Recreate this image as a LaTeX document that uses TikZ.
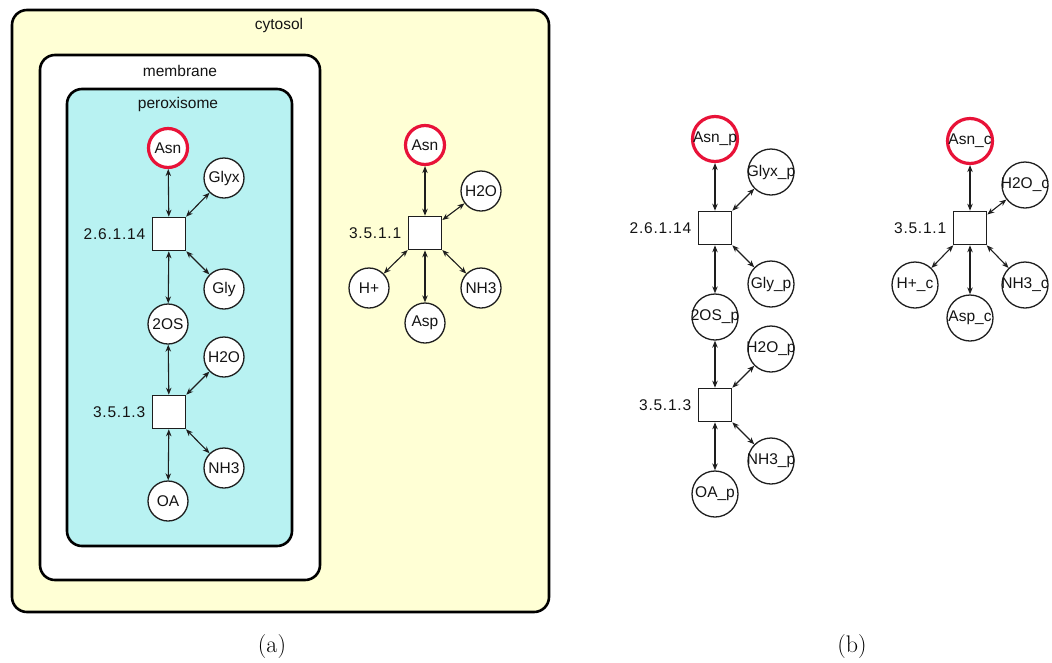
\documentclass[tikz,border=0pt]{standalone}
\usepackage{fontspec}
\newfontfamily\lblfont{Liberation Sans}
\newfontfamily\ecfont[LetterSpace=5]{Liberation Sans}
\usetikzlibrary{arrows.meta}

\definecolor{cytfill}{RGB}{255,255,213}
\definecolor{perfill}{RGB}{184,242,242}
\definecolor{keyred}{RGB}{232,18,56}
\definecolor{edgegray}{RGB}{30,30,30}

\tikzset{
  lbl/.style={font=\lblfont\fontsize{15.5}{18}\selectfont, text=black!92},
  eclbl/.style={font=\ecfont\fontsize{15.5}{18}\selectfont, text=black!92},
  comp/.style={draw=black, line width=2.6pt, rounded corners=15pt},
  met/.style={circle, draw=edgegray, line width=1.3pt, fill=white,
              minimum size=40pt, inner sep=0pt, lbl},
  keymet/.style={met, draw=keyred, line width=3.2pt, minimum size=39pt},
  pmet/.style={circle, draw=edgegray, line width=1.3pt, fill=white,
               minimum size=46pt, inner sep=0pt},
  pkey/.style={pmet, draw=keyred, line width=3.2pt, minimum size=45pt},
  rxn/.style={draw=edgegray, line width=1.6pt, fill=white,
              minimum size=33pt, inner sep=0pt},
  ec/.style={label={[eclbl, label distance=3pt]left:#1}},
  metname/.style={label={[lbl]center:#1}},
  link/.style={{Stealth[length=7pt,width=5.5pt]}-{Stealth[length=7pt,width=5.5pt]},
               line width=1.1pt, draw=edgegray},
  subcaption/.style={font=\fontsize{24}{28}\selectfont}
}

\begin{document}
\begin{tikzpicture}[x=1pt,y=-1pt]
\useasboundingbox (0,0) rectangle (1052,662);

% ---- compartments of the compartmentalised model ----
\draw[comp, fill=cytfill] (12,10) rectangle (549,612);
\draw[comp, fill=white]   (40,55) rectangle (320,580);
\draw[comp, fill=perfill] (67,89) rectangle (292,546);
\node[lbl] (tcyt) at (279,25) {cytosol};
\node[lbl] (tmem) at (180,71) {membrane};
\node[lbl] (tper) at (178,104) {peroxisome};

% ---- peroxisome pathway ----
\node[keymet] (asn1) at (168,148) {Asn};
\node[met] (glyx1) at (224,178) {Glyx};
\node[rxn, ec=2.6.1.14] (r1) at (169,234) {};
\node[met] (gly1) at (224,289) {Gly};
\node[met] (os1) at (168,324) {2OS};
\node[met] (h2o1) at (224,357) {H2O};
\node[rxn, ec=3.5.1.3] (r2) at (169,412) {};
\node[met] (nh31) at (224,468) {NH3};
\node[met] (oa1) at (168,501) {OA};

\draw[link] (r1) -- (asn1);
\draw[link] (r1) -- (glyx1);
\draw[link] (r1) -- (gly1);
\draw[link] (r1) -- (os1);
\draw[link] (r2) -- (os1);
\draw[link] (r2) -- (h2o1);
\draw[link] (r2) -- (nh31);
\draw[link] (r2) -- (oa1);

% ---- cytosolic pathway ----
\node[keymet] (asn2) at (425,145) {Asn};
\node[met] (h2o2) at (481,191) {H2O};
\node[rxn, ec=3.5.1.1] (r3) at (425,233) {};
\node[met] (hp2) at (369,288) {H+};
\node[met] (nh32) at (481,288) {NH3};
\node[met] (asp2) at (425,323) {Asp};

\draw[link] (r3) -- (asn2);
\draw[link] (r3) -- (h2o2);
\draw[link] (r3) -- (hp2);
\draw[link] (r3) -- (nh32);
\draw[link] (r3) -- (asp2);

% ---- flattened model with suffixed metabolite names ----
\node[pkey, metname=Asn\_p] (asnp) at (715,139) {};
\node[pmet, metname=Glyx\_p] (glyxp) at (771,172) {};
\node[rxn, ec=2.6.1.14] (r4) at (715,228) {};
\node[pmet, metname=Gly\_p] (glyp) at (771,284) {};
\node[pmet, metname=2OS\_p] (osp) at (715,317) {};
\node[pmet, metname=H2O\_p] (h2op) at (771,349) {};
\node[rxn, ec=3.5.1.3] (r5) at (715,405) {};
\node[pmet, metname=NH3\_p] (nh3p) at (771,461) {};
\node[pmet, metname=OA\_p] (oap) at (715,494) {};

\draw[link] (r4) -- (asnp);
\draw[link] (r4) -- (glyxp);
\draw[link] (r4) -- (glyp);
\draw[link] (r4) -- (osp);
\draw[link] (r5) -- (osp);
\draw[link] (r5) -- (h2op);
\draw[link] (r5) -- (nh3p);
\draw[link] (r5) -- (oap);

\node[pkey, metname=Asn\_c] (asnc) at (970,141) {};
\node[pmet, metname=H2O\_c] (h2oc) at (1025,185) {};
\node[rxn, ec=3.5.1.1] (r6) at (970,228) {};
\node[pmet, metname=H+\_c] (hpc) at (915,285) {};
\node[pmet, metname=NH3\_c] (nh3c) at (1025,285) {};
\node[pmet, metname=Asp\_c] (aspc) at (970,318) {};

\draw[link] (r6) -- (asnc);
\draw[link] (r6) -- (h2oc);
\draw[link] (r6) -- (hpc);
\draw[link] (r6) -- (nh3c);
\draw[link] (r6) -- (aspc);

% ---- sub-figure captions ----
\node[subcaption] (capa) at (272,647) {(a)};
\node[subcaption] (capb) at (852,647) {(b)};
\end{tikzpicture}
\end{document}
